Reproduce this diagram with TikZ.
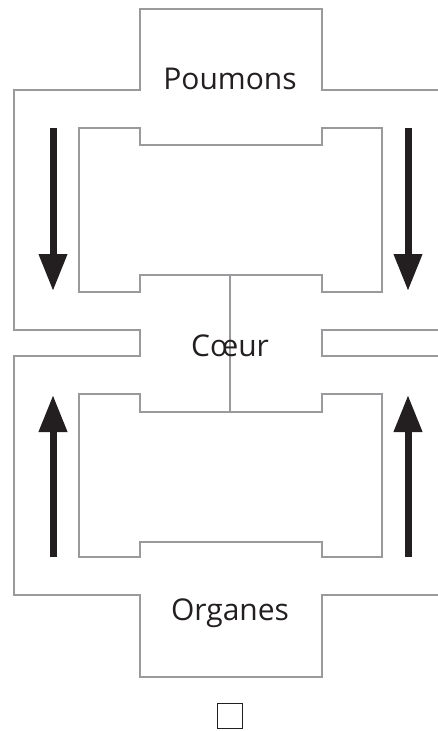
\documentclass[tikz,border=0pt]{standalone}
\usepackage{fontspec}
\setmainfont{Open Sans}
\usetikzlibrary{arrows.meta}
\definecolor{wall}{HTML}{9A9A9C}
\definecolor{ink}{HTML}{231F20}
\tikzset{
  wallline/.style={draw=wall, line width=2pt, line join=miter},
  flow/.style={draw=ink, line width=7pt, -{Triangle[length=37pt,width=27pt]}},
  organ/.style={font=\fontsize{30}{32}\selectfont, text=ink, inner sep=0pt}
}
\begin{document}
\begin{tikzpicture}[x=1pt,y=-1pt]
\useasboundingbox (0,0) rectangle (438,731);
% outer vessel wall with lungs and organs chambers
\draw[wallline] (438,90) -- (322,90) -- (322,9) -- (140,9) -- (140,90) -- (14,90)
  -- (14,330) -- (140,330) -- (140,356) -- (14,356) -- (14,595) -- (140,595)
  -- (140,677) -- (322,677) -- (322,595) -- (438,595);
\draw[wallline] (438,330) -- (322,330) -- (322,356) -- (438,356);
% upper inner block
\draw[wallline] (79,128) -- (140,128) -- (140,145) -- (322,145) -- (322,128) -- (382,128)
  -- (382,292) -- (322,292) -- (322,275) -- (140,275) -- (140,292) -- (79,292) -- cycle;
% lower inner block
\draw[wallline] (79,394) -- (140,394) -- (140,412) -- (322,412) -- (322,394) -- (382,394)
  -- (382,557) -- (322,557) -- (322,542) -- (140,542) -- (140,557) -- (79,557) -- cycle;
% heart septum
\coordinate (septtop) at (230,275);
\coordinate (septbot) at (230,412);
\draw[wallline] (septtop) -- (septbot);
% labels
\node[organ] (poumons) at (230,79) {Poumons};
\node[organ] (coeur) at (230,346) {Cœur};
\node[organ] (organes) at (230,613) {Organes};
% blood flow arrows
\coordinate (la1) at (53,128); \coordinate (la2) at (53,291);
\coordinate (ra1) at (408,128); \coordinate (ra2) at (408,291);
\coordinate (lb1) at (53,557); \coordinate (lb2) at (53,395);
\coordinate (rb1) at (408,557); \coordinate (rb2) at (408,395);
\draw[flow] (la1) -- (la2);
\draw[flow] (ra1) -- (ra2);
\draw[flow] (lb1) -- (lb2);
\draw[flow] (rb1) -- (rb2);
% small box below
\node[draw=ink, line width=1pt, minimum width=25pt, minimum height=25pt, inner sep=0pt] (mark) at (230,716) {};
\end{tikzpicture}
\end{document}
